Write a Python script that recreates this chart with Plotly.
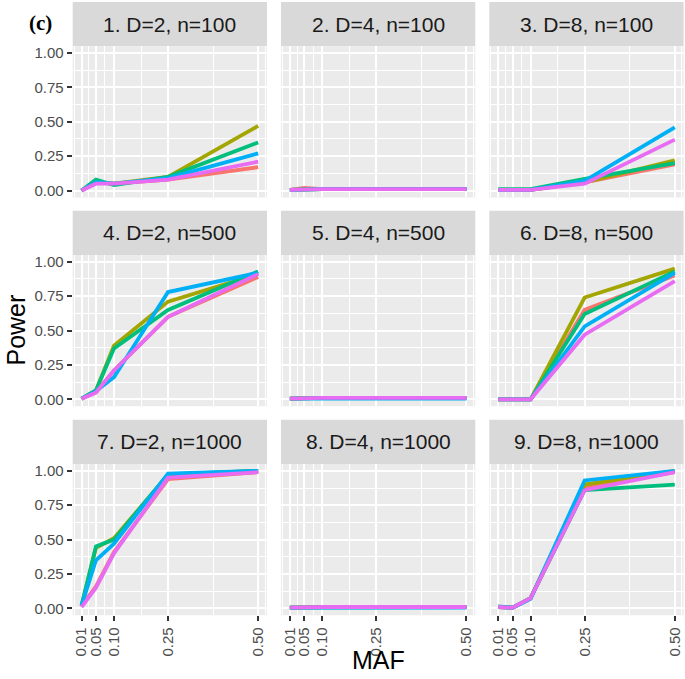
import plotly.graph_objects as go

W, H = 685, 679

maf = [0.01, 0.05, 0.10, 0.25, 0.50]
maf_labels = ["0.01", "0.05", "0.10", "0.25", "0.50"]
power_ticks = [0.0, 0.25, 0.50, 0.75, 1.00]
power_labels = ["0.00", "0.25", "0.50", "0.75", "1.00"]
maf_minor = [-0.01, 0.03, 0.075, 0.175, 0.375, 0.52]
power_minor = [0.125, 0.375, 0.625, 0.875]

panel_titles = ["1. D=2, n=100", "2. D=4, n=100", "3. D=8, n=100",
                "4. D=2, n=500", "5. D=4, n=500", "6. D=8, n=500",
                "7. D=2, n=1000", "8. D=4, n=1000", "9. D=8, n=1000"]

groups = ["G1", "G2", "G3", "G4", "G5"]
group_colors = ["#F8766D", "#A3A500", "#00BF7D", "#00B0F6", "#E76BF3"]

# power per panel: one list per group (G1..G5), values at each MAF
power_p1 = [[0.00, 0.06, 0.05, 0.08, 0.17],
            [0.00, 0.06, 0.05, 0.10, 0.47],
            [0.00, 0.08, 0.04, 0.10, 0.35],
            [0.00, 0.06, 0.05, 0.09, 0.27],
            [0.00, 0.05, 0.05, 0.08, 0.21]]
power_p2 = [[0.005, 0.02, 0.01, 0.01, 0.01],
            [0.005, 0.01, 0.01, 0.01, 0.01],
            [0.005, 0.01, 0.01, 0.01, 0.01],
            [0.005, 0.01, 0.01, 0.01, 0.01],
            [0.005, 0.01, 0.01, 0.01, 0.01]]
power_p3 = [[0.005, 0.005, 0.005, 0.06, 0.19],
            [0.005, 0.005, 0.005, 0.06, 0.22],
            [0.01, 0.01, 0.01, 0.085, 0.20],
            [0.005, 0.005, 0.005, 0.07, 0.46],
            [0.005, 0.005, 0.005, 0.05, 0.37]]
power_p4 = [[0.005, 0.05, 0.21, 0.60, 0.89],
            [0.005, 0.065, 0.39, 0.71, 0.91],
            [0.005, 0.065, 0.37, 0.65, 0.93],
            [0.005, 0.06, 0.16, 0.78, 0.92],
            [0.005, 0.05, 0.21, 0.60, 0.91]]
power_p5 = [[0.005, 0.01, 0.01, 0.01, 0.01],
            [0.005, 0.01, 0.01, 0.01, 0.01],
            [0.005, 0.01, 0.01, 0.01, 0.01],
            [0.005, 0.005, 0.005, 0.005, 0.005],
            [0.005, 0.01, 0.01, 0.01, 0.01]]
power_p6 = [[0.0, 0.0, 0.0, 0.65, 0.90],
            [0.0, 0.0, 0.0, 0.74, 0.95],
            [0.0, 0.0, 0.0, 0.62, 0.93],
            [0.0, 0.0, 0.0, 0.53, 0.92],
            [0.0, 0.0, 0.0, 0.47, 0.86]]
power_p7 = [[0.02, 0.16, 0.41, 0.94, 0.99],
            [0.02, 0.44, 0.51, 0.97, 1.00],
            [0.02, 0.45, 0.50, 0.975, 1.00],
            [0.02, 0.35, 0.47, 0.98, 1.00],
            [0.01, 0.15, 0.40, 0.95, 0.99]]
power_p8 = [[0.005, 0.01, 0.01, 0.01, 0.01],
            [0.005, 0.01, 0.01, 0.01, 0.01],
            [0.005, 0.005, 0.01, 0.01, 0.01],
            [0.005, 0.005, 0.005, 0.005, 0.005],
            [0.005, 0.01, 0.01, 0.01, 0.01]]
power_p9 = [[0.01, 0.005, 0.075, 0.88, 0.99],
            [0.01, 0.005, 0.075, 0.90, 1.00],
            [0.015, 0.005, 0.075, 0.86, 0.90],
            [0.01, 0.005, 0.07, 0.93, 1.00],
            [0.01, 0.005, 0.075, 0.86, 0.99]]

panels = [power_p1, power_p2, power_p3, power_p4, power_p5,
          power_p6, power_p7, power_p8, power_p9]

# layout geometry in pixels
col_left = [72.7, 281.0, 489.3]
col_w = 194.3
row_top = [44.3, 254.0, 464.0]
row_h = 152.0
strip_h = 44.3

fig = go.Figure()
layout = {}
shapes = []
annotations = []

for k in range(9):
    r, c = divmod(k, 3)
    idx = "" if k == 0 else str(k + 1)
    xa, ya = "x" + idx, "y" + idx
    x0 = col_left[c] / W
    x1 = (col_left[c] + col_w) / W
    y1 = 1 - row_top[r] / H
    y0 = 1 - (row_top[r] + row_h) / H
    for g in range(5):
        fig.add_trace(go.Scatter(
            x=maf, y=panels[k][g], mode="lines", name=groups[g],
            line=dict(color=group_colors[g], width=3.8),
            xaxis=xa, yaxis=ya, showlegend=False))
    layout["xaxis" + idx] = dict(
        domain=[x0, x1], anchor=ya, range=[-0.0145, 0.5245],
        tickmode="array", tickvals=maf, ticktext=maf_labels,
        showticklabels=(r == 2), ticks="outside" if r == 2 else "",
        ticklen=5, tickwidth=1.6, tickcolor="#333333",
        tickangle=-90, tickfont=dict(family="Liberation Sans", size=15, color="#4D4D4D"),
        showgrid=True, gridcolor="white", gridwidth=1.6, zeroline=False,
        showline=False,
        minor=dict(tickmode="array", tickvals=maf_minor, showgrid=True,
                   gridcolor="white", gridwidth=0.8, ticks=""))
    layout["yaxis" + idx] = dict(
        domain=[y0, y1], anchor=xa, range=[-0.05, 1.05],
        tickmode="array", tickvals=power_ticks, ticktext=power_labels,
        showticklabels=(c == 0), ticks="outside" if c == 0 else "",
        ticklen=5, tickwidth=1.6, tickcolor="#333333",
        tickfont=dict(family="Liberation Sans", size=15, color="#4D4D4D"),
        showgrid=True, gridcolor="white", gridwidth=1.6, zeroline=False,
        showline=False,
        minor=dict(tickmode="array", tickvals=power_minor, showgrid=True,
                   gridcolor="white", gridwidth=0.8, ticks=""))
    # strip
    sy0 = 1 - row_top[r] / H
    sy1 = 1 - (row_top[r] - strip_h) / H
    shapes.append(dict(type="rect", xref="paper", yref="paper",
                       x0=x0, x1=x1, y0=sy0, y1=sy1,
                       fillcolor="#D9D9D9", line=dict(width=0), layer="below"))
    annotations.append(dict(text=panel_titles[k], xref="paper", yref="paper",
                            x=(x0 + x1) / 2, y=(sy0 + sy1) / 2,
                            xanchor="center", yanchor="middle", showarrow=False,
                            font=dict(family="Liberation Sans", size=21, color="#1A1A1A")))

annotations.append(dict(text="Power", xref="paper", yref="paper",
                        x=0, y=1 - 330 / H, textangle=-90,
                        xanchor="left", yanchor="middle", showarrow=False,
                        font=dict(family="Liberation Sans", size=25, color="black")))
annotations.append(dict(text="MAF", xref="paper", yref="paper",
                        x=378 / W, y=1 - 661 / H,
                        xanchor="center", yanchor="middle", showarrow=False,
                        font=dict(family="Liberation Sans", size=25, color="black")))
annotations.append(dict(text="<b>(c)</b>", xref="paper", yref="paper",
                        x=40 / W, y=1 - 21 / H,
                        xanchor="center", yanchor="middle", showarrow=False,
                        font=dict(family="Liberation Serif", size=21, color="black")))

fig.update_layout(
    width=W, height=H, margin=dict(l=0, r=0, t=0, b=0),
    paper_bgcolor="white", plot_bgcolor="#EBEBEB",
    showlegend=False, shapes=shapes, annotations=annotations, **layout)

fig.write_html("out.html", config={"displayModeBar": False},
               post_script="document.body.style.margin='0';document.body.style.overflow='hidden';")
